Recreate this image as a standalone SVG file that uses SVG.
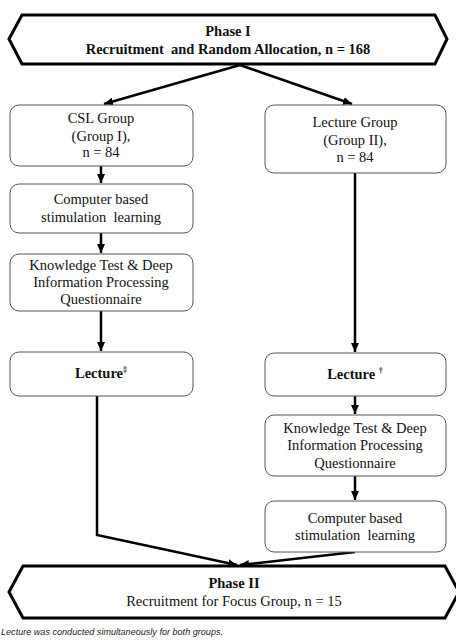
<svg xmlns="http://www.w3.org/2000/svg" width="456" height="640" viewBox="0 0 456 640">
<defs>
<marker id="ah" markerUnits="userSpaceOnUse" markerWidth="10" markerHeight="10" refX="9" refY="4" orient="auto">
<path d="M0,0 L9,4 L0,8 Z" fill="#000"/>
</marker>
<style>
.hex{fill:#fff;stroke:#000;stroke-width:3;stroke-linejoin:miter}
.box{fill:#fff;stroke:#555;stroke-width:1}
.t{font-family:"Liberation Serif","Times New Roman",serif;font-size:14.5px;fill:#111;text-anchor:middle}
.b{font-weight:bold}
.c{fill:none;stroke:#000;stroke-width:2.5}
.fn{font-family:"Liberation Sans",Arial,sans-serif;font-style:italic;font-size:9px;fill:#222}
</style>
</defs>
<rect width="456" height="640" fill="#fff"/>
<g id="connectors">
<line class="c" x1="240" y1="65" x2="104" y2="104" marker-end="url(#ah)"/>
<line class="c" x1="240" y1="65" x2="352" y2="104" marker-end="url(#ah)"/>
<line class="c" x1="101" y1="166" x2="101" y2="183" marker-end="url(#ah)"/>
<line class="c" x1="101" y1="233" x2="101" y2="253" marker-end="url(#ah)"/>
<line class="c" x1="101" y1="311" x2="101" y2="351" marker-end="url(#ah)"/>
<line class="c" x1="355" y1="173" x2="355" y2="352" marker-end="url(#ah)"/>
<line class="c" x1="355" y1="396" x2="355" y2="414" marker-end="url(#ah)"/>
<line class="c" x1="355" y1="476" x2="355" y2="500" marker-end="url(#ah)"/>
<polyline class="c" points="97,396 97,535 237,565" marker-end="url(#ah)"/>
<line class="c" x1="355" y1="552" x2="240" y2="565" marker-end="url(#ah)"/>
</g>
<g id="phase1">
<polygon class="hex" points="9,39 22,15 435,15 447,39 435,64 22,64"/>
<text class="t b" x="228" y="36">Phase I</text>
<text class="t b" x="228" y="54" xml:space="preserve">Recruitment  and Random Allocation, n = 168</text>
</g>
<g id="csl-group">
<rect class="box" x="10" y="105" width="183" height="61" rx="9"/>
<text class="t" x="101" y="123">CSL Group</text>
<text class="t" x="101" y="141">(Group I),</text>
<text class="t" x="101" y="157">n = 84</text>
</g>
<g id="csl-cbl">
<rect class="box" x="10" y="184" width="183" height="49" rx="9"/>
<text class="t" x="101" y="204">Computer based</text>
<text class="t" x="101" y="222" xml:space="preserve">stimulation  learning</text>
</g>
<g id="csl-test">
<rect class="box" x="10" y="254" width="183" height="57" rx="9"/>
<text class="t" x="101" y="270">Knowledge Test &amp; Deep</text>
<text class="t" x="101" y="287">Information Processing</text>
<text class="t" x="101" y="304">Questionnaire</text>
</g>
<g id="csl-lecture">
<rect class="box" x="10" y="352" width="183" height="44" rx="9"/>
<text class="t b" x="101" y="378">Lecture<tspan font-size="8" dy="-6">‡</tspan></text>
</g>
<g id="lecture-group">
<rect class="box" x="265" y="105" width="181" height="68" rx="9"/>
<text class="t" x="355" y="127">Lecture Group</text>
<text class="t" x="355" y="145">(Group II),</text>
<text class="t" x="355" y="162">n = 84</text>
</g>
<g id="lg-lecture">
<rect class="box" x="265" y="353" width="181" height="43" rx="9"/>
<text class="t b" x="355" y="379">Lecture <tspan font-size="8" dy="-6">†</tspan></text>
</g>
<g id="lg-test">
<rect class="box" x="265" y="415" width="181" height="61" rx="9"/>
<text class="t" x="355" y="433">Knowledge Test &amp; Deep</text>
<text class="t" x="355" y="450">Information Processing</text>
<text class="t" x="355" y="468">Questionnaire</text>
</g>
<g id="lg-cbl">
<rect class="box" x="265" y="501" width="181" height="51" rx="9"/>
<text class="t" x="355" y="523">Computer based</text>
<text class="t" x="355" y="540" xml:space="preserve">stimulation  learning</text>
</g>
<g id="phase2">
<polygon class="hex" points="9,592 23,566 445,566 459,592 445,618 23,618"/>
<text class="t b" x="234" y="588">Phase II</text>
<text class="t" x="234" y="606">Recruitment for Focus Group, n = 15</text>
</g>
<text class="fn" x="1" y="635" textLength="222" lengthAdjust="spacingAndGlyphs">Lecture was conducted simultaneously for both groups.</text>
</svg>
